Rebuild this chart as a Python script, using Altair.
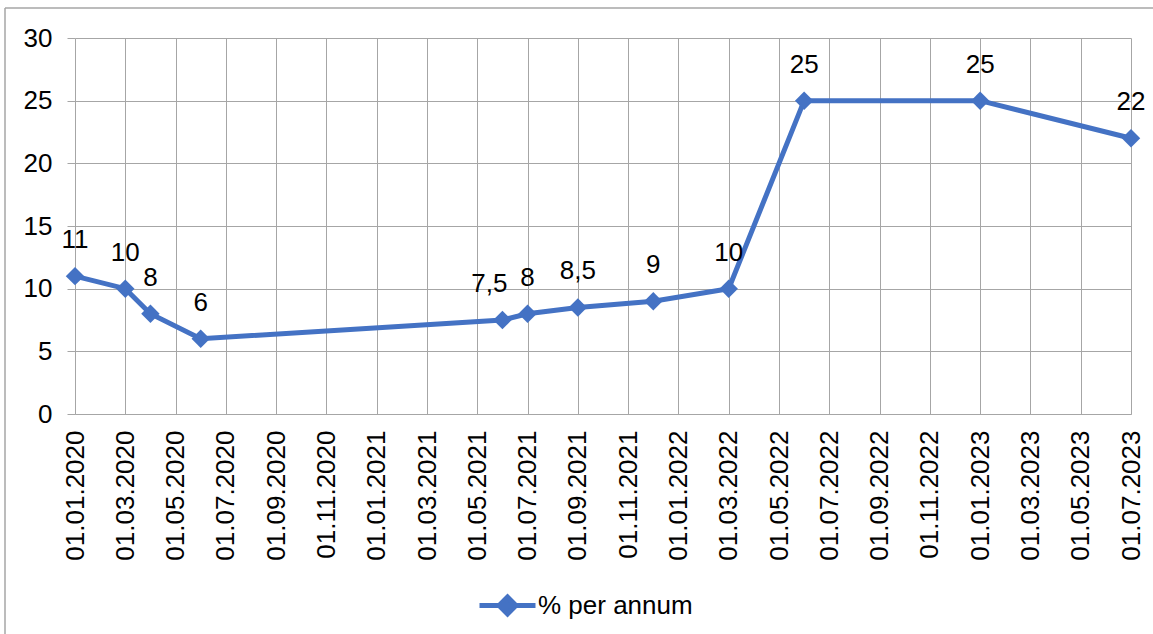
import altair as alt
import pandas as pd

# Key rate observations (date of change, % per annum)
dates = ["01.01.2020", "01.03.2020", "01.04.2020", "01.06.2020", "01.06.2021",
         "01.07.2021", "01.09.2021", "01.12.2021", "01.03.2022", "01.06.2022",
         "01.01.2023", "01.07.2023"]
rates = [11, 10, 8, 6, 7.5, 8, 8.5, 9, 10, 25, 25, 22]
series_name = "% per annum"

# Axis ticks
tick_labels = ["01.01.2020", "01.03.2020", "01.05.2020", "01.07.2020", "01.09.2020",
               "01.11.2020", "01.01.2021", "01.03.2021", "01.05.2021", "01.07.2021",
               "01.09.2021", "01.11.2021", "01.01.2022", "01.03.2022", "01.05.2022",
               "01.07.2022", "01.09.2022", "01.11.2022", "01.01.2023", "01.03.2023",
               "01.05.2023", "01.07.2023"]
y_ticks = [0, 5, 10, 15, 20, 25, 30]

# Label that is nudged left so it does not collide with its neighbour
crowded_label_date = "01.06.2021"

BLUE = "#4472C4"
GRID = "#a6a6a6"
FONT = "Liberation Sans"


def month_index(s):
    d, m, y = s.split(".")
    return (int(y) - 2020) * 12 + int(m) - 1


df = pd.DataFrame({"date": dates, "rate": rates, "series": series_name})
df["month"] = [month_index(s) for s in dates]
tick_values = [month_index(s) for s in tick_labels]

label_expr = ("'01.' + (datum.value % 12 < 9 ? '0' : '') + toString(datum.value % 12 + 1)"
              " + '.' + toString(2020 + floor(datum.value / 12))")

x = alt.X("month:Q",
          scale=alt.Scale(domain=[tick_values[0], tick_values[-1]], nice=False, zero=False),
          axis=alt.Axis(values=tick_values, labelExpr=label_expr, labelAngle=-90,
                        ticks=False, labelPadding=16, grid=True, title=None,
                        labelOverlap=False, labelFlush=False))
y = alt.Y("rate:Q",
          scale=alt.Scale(domain=[y_ticks[0], y_ticks[-1]], nice=False),
          axis=alt.Axis(values=y_ticks, grid=True, domain=False, tickSize=8,
                        labelPadding=15, title=None))

base = alt.Chart(df).encode(x=x, y=y)

line = base.mark_line(strokeWidth=5).encode(
    color=alt.Color("series:N", scale=alt.Scale(range=[BLUE]),
                    legend=alt.Legend(orient="none", legendX=402, legendY=537,
                                      title=None, padding=0,
                                      symbolType="M-1,0L1,0M0,-0.3L0.3,0L0,0.3L-0.3,0Z",
                                      symbolSize=3136, symbolStrokeWidth=5,
                                      symbolFillColor=BLUE, symbolStrokeColor=BLUE,
                                      symbolOpacity=1, labelOffset=0,
                                      labelFont=FONT, labelFontSize=26,
                                      labelColor="black"))
)

points = base.mark_point(shape="diamond", filled=True, size=340, opacity=1, color=BLUE)

label_base = base.transform_calculate(
    label="replace(toString(datum.rate), '.', ',')"
)
labels = label_base.transform_filter(
    alt.datum.date != crowded_label_date
).mark_text(baseline="alphabetic", dy=-28, font=FONT, fontSize=26, color="black").encode(
    text="label:N"
)
labels_nudged = label_base.transform_filter(
    alt.datum.date == crowded_label_date
).mark_text(baseline="alphabetic", dy=-28, dx=-13, font=FONT, fontSize=26,
            color="black").encode(text="label:N")

# Outer frame of the chart area
frame_src = pd.DataFrame({"k": [0]})
frame_left = alt.Chart(frame_src).mark_rule(color=GRID, strokeWidth=1.5).encode(
    x=alt.value(-70), y=alt.value(-30), y2=alt.value(620))
frame_top = alt.Chart(frame_src).mark_rule(color=GRID, strokeWidth=1.5).encode(
    x=alt.value(-70), x2=alt.value(1100), y=alt.value(-30))

chart = alt.layer(frame_left, frame_top, line, points, labels, labels_nudged).properties(
    width=1056, height=376,
    autosize=alt.AutoSizeParams(type="none"),
    padding={"left": 75, "top": 38, "right": 22, "bottom": 220},
).configure_axis(
    labelFont=FONT, labelFontSize=26, labelColor="black",
    gridColor=GRID, gridOpacity=1, domainColor=GRID, tickColor=GRID,
).configure_view(stroke="transparent")

chart.save("out.html", embed_options={"renderer": "svg", "actions": False})
